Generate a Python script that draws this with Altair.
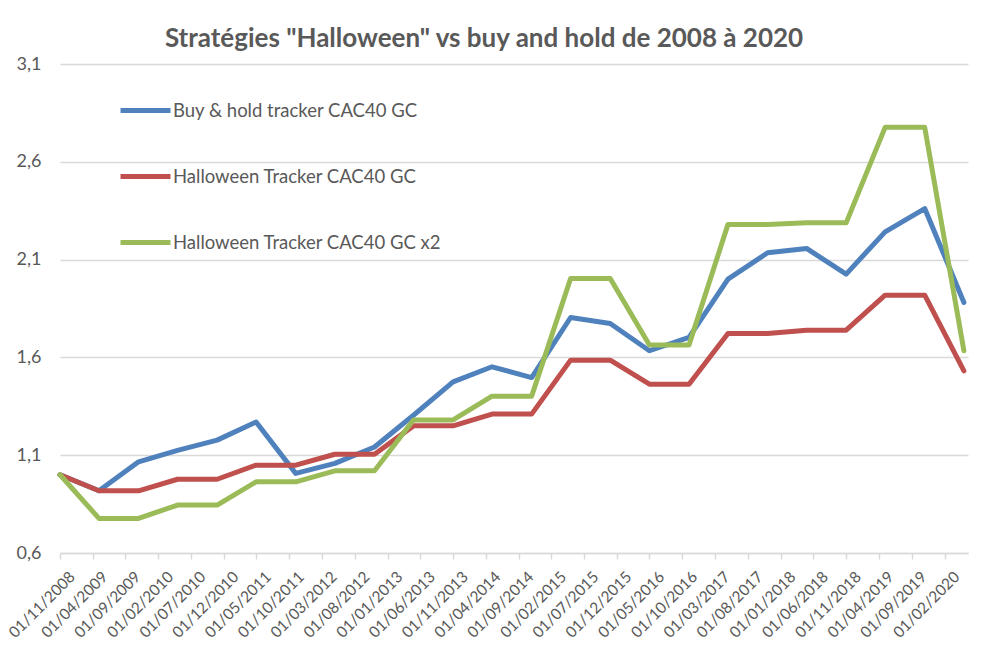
import altair as alt
import pandas as pd

dates = ["2008-11-01", "2009-05-01", "2009-11-01", "2010-05-01", "2010-11-01",
         "2011-05-01", "2011-11-01", "2012-05-01", "2012-11-01", "2013-05-01",
         "2013-11-01", "2014-05-01", "2014-11-01", "2015-05-01", "2015-11-01",
         "2016-05-01", "2016-11-01", "2017-05-01", "2017-11-01", "2018-05-01",
         "2018-11-01", "2019-05-01", "2019-11-01", "2020-05-01"]

buy_hold = [1.0, 0.918, 1.066, 1.125, 1.177, 1.27, 1.007, 1.058, 1.142, 1.304,
            1.475, 1.552, 1.497, 1.804, 1.773, 1.634, 1.702, 2.0, 2.135, 2.157,
            2.026, 2.242, 2.361, 1.881]
halloween = [1.0, 0.918, 0.918, 0.977, 0.977, 1.049, 1.049, 1.105, 1.105, 1.25,
             1.25, 1.31, 1.31, 1.586, 1.586, 1.463, 1.463, 1.722, 1.722, 1.739,
             1.739, 1.918, 1.918, 1.531]
halloween_x2 = [1.0, 0.777, 0.777, 0.845, 0.845, 0.964, 0.964, 1.02, 1.02, 1.28,
                1.28, 1.402, 1.402, 2.003, 2.003, 1.663, 1.663, 2.28, 2.28, 2.288,
                2.288, 2.776, 2.776, 1.634]

series_names = ["Buy & hold tracker CAC40 GC",
                "Halloween Tracker CAC40 GC",
                "Halloween Tracker CAC40 GC x2"]
series_colors = ["#4F81BD", "#C0504D", "#9BBB59"]

tick_labels = ["01/11/2008", "01/04/2009", "01/09/2009", "01/02/2010", "01/07/2010",
               "01/12/2010", "01/05/2011", "01/10/2011", "01/03/2012", "01/08/2012",
               "01/01/2013", "01/06/2013", "01/11/2013", "01/04/2014", "01/09/2014",
               "01/02/2015", "01/07/2015", "01/12/2015", "01/05/2016", "01/10/2016",
               "01/03/2017", "01/08/2017", "01/01/2018", "01/06/2018", "01/11/2018",
               "01/04/2019", "01/09/2019", "01/02/2020"]
y_ticks = [0.6, 1.1, 1.6, 2.1, 2.6, 3.1]


def to_dt(s):
    d, m, y = s.split("/")
    return alt.DateTime(year=int(y), month=int(m), date=int(d))


rows = []
for name, vals in zip(series_names, [buy_hold, halloween, halloween_x2]):
    for dt, v in zip(dates, vals):
        rows.append({"date": dt + "T00:00:00", "value": v, "series": name})
df = pd.DataFrame(rows)

FONT = "Lato"
GREY = "#595959"

chart = alt.Chart(df).mark_line(strokeWidth=5, strokeCap="round", strokeJoin="round").encode(
    x=alt.X("date:T",
            scale=alt.Scale(domain=[to_dt("01/11/2008"), to_dt("20/05/2020")]),
            axis=alt.Axis(values=[to_dt(t) for t in tick_labels], format="%d/%m/%Y",
                          labelAngle=-45, labelAlign="right", labelBaseline="top",
                          labelFont=FONT, labelFontSize=15.5, labelColor=GREY,
                          labelOverlap=False, labelPadding=10, labelOffset=7,
                          labelFlush=False,
                          domainColor="#D9D9D9", domainWidth=1.5,
                          tickColor="#D9D9D9", tickWidth=1.5, tickSize=6,
                          grid=False, title=None)),
    y=alt.Y("value:Q",
            scale=alt.Scale(domain=[0.6, 3.1], nice=False, zero=False),
            axis=alt.Axis(values=y_ticks,
                          labelExpr="replace(format(datum.value, '.1f'), '.', ',')",
                          labelFont=FONT, labelFontSize=18, labelColor=GREY,
                          labelPadding=19, domain=False, ticks=False,
                          gridColor="#D9D9D9", gridWidth=1.5, title=None)),
    color=alt.Color("series:N",
                    scale=alt.Scale(domain=series_names, range=series_colors),
                    legend=alt.Legend(orient="none", legendX=58, legendY=19,
                                      title=None, symbolType="stroke",
                                      symbolSize=2500, symbolStrokeWidth=5,
                                      labelFont=FONT, labelFontSize=18.5,
                                      labelColor=GREY, labelOffset=0,
                                      rowPadding=28, padding=0, labelLimit=400)),
).properties(
    width=908,
    height=489,
    background="white",
    autosize=alt.AutoSizeParams(type="none"),
    padding={"left": 52, "top": 56, "right": 14, "bottom": 100},
    title=alt.TitleParams("Stratégies \"Halloween\" vs buy and hold de 2008 à 2020",
                          font=FONT, fontSize=26, fontWeight="bold", color=GREY,
                          anchor="middle", dx=-30, offset=3),
).configure_view(stroke=None)

chart.save("out.html", embed_options={"renderer": "svg", "actions": False})
